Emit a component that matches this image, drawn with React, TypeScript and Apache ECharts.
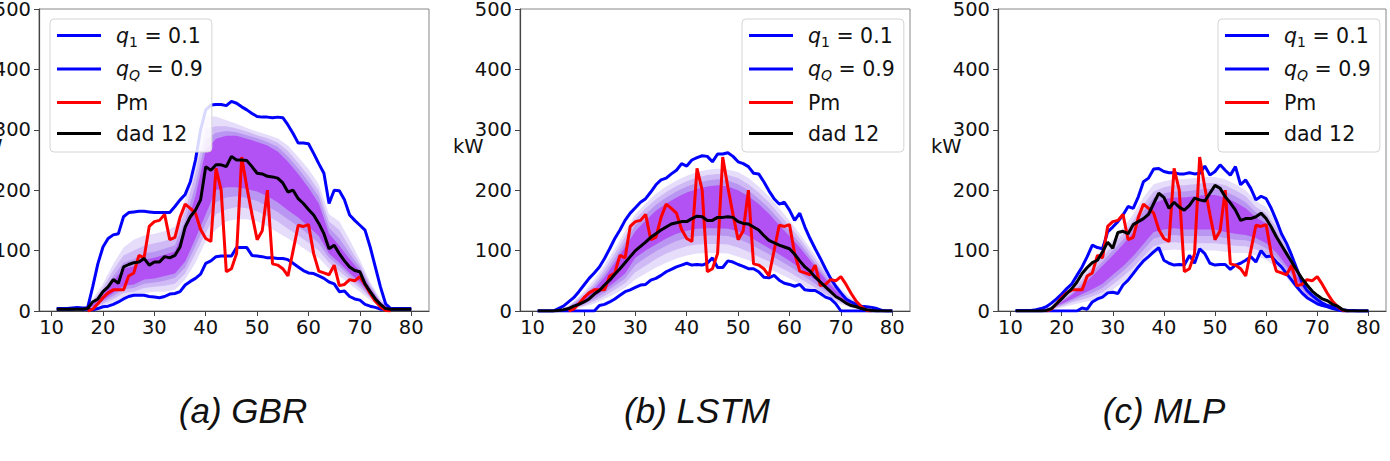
import { useEffect, useRef } from 'react';
import * as echarts from 'echarts';

// Time steps of the day (x axis)
const X = [
  11, 12, 13, 14, 15, 16, 17, 18, 19, 20,
  21, 22, 23, 24, 25, 26, 27, 28, 29, 30,
  31, 32, 33, 34, 35, 36, 37, 38, 39, 40,
  41, 42, 43, 44, 45, 46, 47, 48, 49, 50,
  51, 52, 53, 54, 55, 56, 57, 58, 59, 60,
  61, 62, 63, 64, 65, 66, 67, 68, 69, 70,
  71, 72, 73, 74, 75, 76, 77, 78, 79, 80,
];
const X_TICKS = [10, 20, 30, 40, 50, 60, 70, 80];

// Measured power (same day in every panel)
const PM = [
  null, null, null, null, null, null, 0, 3, 12, 22,
  30, 35, 35, 35, 58, 63, 92, 88, 140, 148,
  150, 160, 118, 122, 155, 177, 170, 162, 135, 120,
  115, 236, 200, 65, 70, 95, 255, 205, 160, 118,
  133, 200, 78, 76, 70, 58, 100, 142, 140, 143,
  95, 66, 63, 60, 76, 42, 44, 52, 50, 57,
  44, 29, 16, 7, 1, 0, null, null, null, null,
];

// GBR
const GBR_Q1 = [
  3, 3, 3, 3, 4, 3, 3, 2, 4, 7,
  8, 11, 15, 20, 24, 26, 26, 26, 24, 23,
  22, 24, 28, 29, 32, 43, 49, 54, 61, 79,
  83, 90, 91, 91, 91, 105, 105, 105, 92, 91,
  90, 88, 88, 87, 87, 85, 79, 73, 67, 63,
  62, 58, 54, 48, 45, 32, 33, 24, 20, 18,
  11, 8, 6, 3, 3, 3, 3, 3, 3, 3,
];
const GBR_QQ = [
  4, 4, 4, 5, 6, 5, 5, 40, 78, 106,
  120, 126, 128, 156, 163, 164, 165, 165, 164, 163,
  163, 163, 163, 173, 184, 193, 214, 250, 300, 333,
  341, 342, 342, 340, 347, 344, 338, 333, 327, 322,
  321, 321, 320, 321, 320, 308, 294, 278, 278, 277,
  261, 244, 228, 178, 200, 199, 184, 159, 150, 142,
  134, 106, 73, 40, 12, 4, 4, 4, 4, 4,
];
const GBR_DAD = [
  3, 3, 3, 3, 3, 3, 4, 15, 20, 32,
  40, 52, 46, 73, 77, 80, 81, 87, 76, 81,
  81, 90, 88, 92, 106, 139, 156, 167, 184, 239,
  233, 242, 242, 239, 256, 250, 250, 249, 239, 228,
  227, 223, 222, 220, 212, 197, 200, 186, 178, 168,
  159, 145, 128, 103, 109, 95, 83, 73, 67, 65,
  45, 32, 20, 11, 4, 3, 3, 3, 3, 3,
];

// LSTM
const LSTM_Q1 = [
  0, 0, 0, 0, 0, 0, 0, 0, 0, 0,
  0, 0, 9, 11, 15, 20, 26, 32, 35, 39,
  43, 44, 51, 54, 59, 65, 69, 73, 76, 79,
  76, 77, 76, 79, 88, 72, 72, 83, 81, 77,
  74, 70, 70, 65, 56, 55, 59, 51, 46, 44,
  41, 44, 35, 34, 34, 29, 23, 20, 12, 0,
  0, 0, 0, 0, 0, 0, 0, 0, 0, 0,
];
const LSTM_QQ = [
  0, 0, 0, 0, 4, 8, 15, 22, 32, 43,
  54, 63, 73, 87, 103, 120, 134, 150, 162, 171,
  180, 186, 197, 209, 217, 220, 227, 233, 244, 240,
  250, 254, 257, 256, 247, 260, 260, 262, 256, 247,
  244, 239, 228, 227, 214, 199, 186, 177, 180, 167,
  150, 162, 139, 120, 103, 87, 70, 54, 41, 30,
  20, 15, 11, 8, 7, 6, 4, 1, 0, 0,
];
const LSTM_DAD = [
  0, 0, 0, 0, 1, 2, 4, 8, 11, 15,
  20, 28, 34, 43, 51, 61, 70, 80, 90, 100,
  107, 114, 122, 128, 134, 139, 144, 146, 148, 148,
  153, 157, 156, 150, 150, 155, 155, 156, 155, 148,
  145, 144, 139, 134, 125, 117, 113, 109, 106, 103,
  94, 83, 73, 66, 56, 48, 40, 32, 24, 19,
  13, 9, 7, 4, 2, 1, 0, 0, 0, 0,
];

// MLP
const MLP_Q1 = [
  0, 0, 0, 0, 0, 0, 0, 0, 0, 0,
  0, 0, 0, 5, 3, 15, 20, 23, 30, 31,
  29, 43, 51, 62, 73, 83, 90, 98, 105, 84,
  79, 76, 77, 76, 92, 79, 103, 95, 79, 76,
  77, 77, 69, 76, 79, 84, 90, 81, 100, 90,
  91, 81, 73, 62, 51, 40, 30, 22, 17, 12,
  9, 7, 4, 2, 0, 0, 0, 0, 0, 0,
];
const MLP_QQ = [
  1, 1, 1, 1, 2, 4, 7, 13, 20, 28,
  37, 45, 59, 73, 90, 109, 105, 103, 131, 139,
  148, 159, 173, 170, 189, 214, 220, 235, 236, 231,
  229, 229, 227, 227, 229, 227, 228, 240, 225, 231,
  242, 233, 225, 239, 209, 217, 203, 184, 190, 186,
  170, 150, 128, 112, 92, 70, 48, 34, 26, 19,
  13, 9, 7, 4, 2, 1, 1, 0, 0, 0,
];
const MLP_DAD = [
  0, 0, 0, 0, 0, 0, 1, 4, 12, 20,
  29, 37, 48, 62, 72, 80, 84, 98, 114, 104,
  130, 132, 128, 143, 148, 153, 160, 178, 195, 188,
  170, 180, 172, 167, 175, 187, 184, 182, 195, 208,
  203, 189, 179, 167, 150, 153, 153, 156, 162, 153,
  139, 123, 109, 95, 81, 67, 54, 43, 33, 26,
  20, 17, 11, 8, 2, 0, 0, 0, 0, 0,
];

// Quantile bands, sampled every two steps (outer band 1 to inner band 4)
const BAND_X = [16, 18, 20, 22, 24, 26, 28, 30, 32, 34, 36, 38, 40, 42, 44, 46, 48, 50, 52, 54, 56, 58, 60, 62, 64, 66, 68, 70, 72, 74, 76, 78];

const GBR_B1_LO = [3, 4, 8, 15, 22, 25, 30, 32, 32, 35, 52, 80, 115, 135, 148, 152, 152, 148, 140, 130, 120, 110, 98, 88, 70, 58, 45, 32, 18, 7, 2, 3];
const GBR_B1_HI = [3, 20, 45, 78, 105, 118, 125, 128, 132, 140, 185, 250, 322, 322, 316, 310, 303, 297, 292, 286, 274, 255, 235, 210, 160, 148, 118, 85, 48, 20, 3, 3];
const GBR_B2_LO = [3, 5, 12, 20, 30, 32, 38, 40, 42, 45, 62, 95, 130, 160, 168, 172, 170, 165, 157, 148, 136, 125, 113, 100, 80, 66, 52, 38, 22, 9, 2, 3];
const GBR_B2_HI = [3, 16, 38, 68, 92, 100, 108, 112, 116, 123, 166, 228, 302, 306, 306, 302, 297, 291, 286, 279, 265, 245, 224, 199, 148, 134, 105, 78, 44, 17, 3, 3];
const GBR_B3_LO = [3, 6, 15, 25, 36, 38, 45, 47, 50, 55, 72, 108, 145, 180, 188, 190, 187, 182, 173, 164, 152, 140, 127, 112, 88, 74, 58, 43, 25, 10, 2, 3];
const GBR_B3_HI = [3, 13, 32, 58, 80, 86, 95, 98, 103, 109, 150, 208, 284, 295, 298, 296, 291, 286, 280, 272, 256, 236, 214, 189, 138, 120, 95, 72, 40, 15, 3, 3];
const GBR_B4_LO = [3, 7, 18, 30, 42, 44, 52, 54, 58, 62, 82, 120, 160, 200, 205, 205, 202, 198, 190, 180, 167, 155, 140, 124, 95, 80, 63, 48, 28, 11, 2, 3];
const GBR_B4_HI = [3, 11, 27, 50, 70, 74, 85, 88, 93, 99, 136, 190, 266, 285, 290, 290, 285, 280, 274, 264, 247, 227, 204, 178, 128, 108, 86, 66, 37, 14, 3, 3];

const LSTM_B1_LO = [1, 3, 7, 12, 20, 28, 38, 52, 62, 72, 80, 87, 92, 95, 96, 96, 95, 90, 84, 77, 70, 62, 54, 45, 36, 27, 18, 11, 5, 2, 0, 0];
const LSTM_B1_HI = [3, 16, 32, 52, 76, 103, 132, 160, 178, 194, 206, 216, 224, 230, 234, 236, 234, 230, 220, 206, 190, 170, 150, 128, 104, 80, 57, 37, 21, 10, 4, 1];
const LSTM_B2_LO = [1, 4, 9, 16, 25, 35, 46, 64, 75, 86, 95, 102, 107, 110, 111, 111, 110, 105, 98, 90, 82, 73, 64, 54, 44, 33, 23, 14, 7, 3, 0, 0];
const LSTM_B2_HI = [2, 14, 28, 46, 69, 95, 123, 152, 170, 185, 197, 207, 215, 221, 225, 227, 225, 220, 210, 196, 180, 160, 141, 120, 97, 74, 52, 33, 18, 8, 3, 1];
const LSTM_B3_LO = [1, 5, 11, 20, 30, 42, 54, 76, 88, 99, 108, 116, 121, 124, 125, 125, 124, 119, 112, 103, 94, 84, 74, 63, 51, 39, 28, 17, 9, 4, 1, 0];
const LSTM_B3_HI = [2, 12, 25, 41, 62, 87, 114, 142, 160, 176, 188, 198, 206, 212, 216, 218, 216, 210, 200, 186, 170, 151, 132, 112, 90, 68, 47, 29, 16, 7, 3, 1];
const LSTM_B4_LO = [1, 6, 13, 24, 35, 48, 62, 88, 100, 110, 120, 128, 133, 136, 137, 137, 136, 132, 124, 114, 104, 94, 83, 71, 58, 45, 32, 20, 10, 4, 1, 0];
const LSTM_B4_HI = [2, 10, 21, 36, 56, 80, 106, 132, 150, 166, 178, 188, 196, 202, 206, 208, 206, 200, 190, 177, 161, 142, 124, 105, 84, 63, 43, 26, 14, 6, 2, 1];

const MLP_B1_LO = [0, 2, 6, 10, 14, 18, 24, 35, 48, 62, 78, 95, 100, 102, 100, 100, 100, 100, 98, 96, 96, 92, 85, 72, 55, 35, 20, 10, 5, 2, 0, 0];
const MLP_B1_HI = [2, 8, 22, 38, 58, 80, 98, 118, 138, 160, 188, 210, 215, 218, 218, 220, 222, 222, 218, 210, 200, 182, 172, 148, 112, 72, 42, 24, 13, 6, 1, 0];
const MLP_B2_LO = [0, 3, 8, 14, 19, 24, 31, 44, 57, 72, 90, 107, 112, 114, 112, 112, 112, 112, 110, 108, 107, 102, 95, 81, 62, 41, 24, 13, 6, 2, 0, 0];
const MLP_B2_HI = [1, 7, 19, 34, 52, 72, 90, 108, 128, 150, 176, 198, 205, 208, 208, 210, 212, 212, 208, 200, 190, 172, 162, 139, 105, 67, 38, 22, 11, 5, 1, 0];
const MLP_B3_LO = [0, 3, 10, 17, 24, 30, 38, 52, 66, 82, 101, 120, 124, 126, 124, 124, 124, 124, 121, 118, 117, 112, 104, 89, 69, 46, 27, 15, 7, 3, 0, 0];
const MLP_B3_HI = [1, 6, 17, 30, 46, 64, 82, 100, 118, 140, 165, 188, 195, 198, 198, 200, 202, 202, 198, 190, 180, 163, 153, 131, 99, 62, 35, 20, 10, 5, 1, 0];
const MLP_B4_LO = [0, 4, 12, 20, 28, 36, 45, 60, 74, 91, 111, 131, 135, 137, 135, 135, 135, 135, 131, 128, 126, 121, 112, 97, 75, 51, 30, 16, 8, 3, 0, 0];
const MLP_B4_HI = [1, 5, 15, 27, 41, 58, 75, 92, 110, 130, 155, 178, 185, 188, 188, 190, 192, 192, 188, 180, 170, 155, 145, 124, 93, 58, 33, 19, 9, 4, 1, 0];

const CAPTIONS = ['(a) GBR', '(b) LSTM', '(c) MLP'];
const LEGEND_NAMES = ['q1', 'qQ', 'Pm', 'dad 12'];
const LEGEND_LABELS: Record<string, string> = {
  q1: '{q|q}{s|1}{t| = 0.1}',
  qQ: '{q|q}{sq|Q}{t| = 0.9}',
  Pm: '{t|Pm}',
  'dad 12': '{t|dad 12}',
};

const PANELS = [
  { q1: GBR_Q1, qQ: GBR_QQ, dad: GBR_DAD, bands: [[GBR_B1_LO, GBR_B1_HI], [GBR_B2_LO, GBR_B2_HI], [GBR_B3_LO, GBR_B3_HI], [GBR_B4_LO, GBR_B4_HI]] },
  { q1: LSTM_Q1, qQ: LSTM_QQ, dad: LSTM_DAD, bands: [[LSTM_B1_LO, LSTM_B1_HI], [LSTM_B2_LO, LSTM_B2_HI], [LSTM_B3_LO, LSTM_B3_HI], [LSTM_B4_LO, LSTM_B4_HI]] },
  { q1: MLP_Q1, qQ: MLP_QQ, dad: MLP_DAD, bands: [[MLP_B1_LO, MLP_B1_HI], [MLP_B2_LO, MLP_B2_HI], [MLP_B3_LO, MLP_B3_HI], [MLP_B4_LO, MLP_B4_HI]] },
];

// Page layout of the three panels
const LAYOUT = [
  { left: 39, width: 390, legendLeft: 50, captionX: 243, kwX: -12 },
  { left: 520, width: 390, legendLeft: 742, captionX: 697, kwX: 469 },
  { left: 998, width: 388, legendLeft: 1218, captionX: 1164, kwX: 947 },
];
const PLOT_TOP = 9;
const PLOT_HEIGHT = 302;

const FONT = '"DejaVu Sans", Verdana, sans-serif';
const TEXT = '#111';
const BAND_COLORS = ['#e6ddfb', '#cfbaf6', '#b996f1', '#b252f4'];
const BLUE = '#0000ff';
const RED = '#ff0000';
const BLACK = '#000000';

function bandSeries(k: number, lo: number[], hi: number[], color: string) {
  return {
    type: 'custom',
    name: 'band',
    xAxisIndex: k,
    yAxisIndex: k,
    silent: true,
    data: BAND_X.map((x, i) => [x, lo[i], hi[i]]),
    encode: { x: 0, y: [1, 2] },
    renderItem: (params: any, api: any) => {
      if (params.dataIndex !== 0) return null;
      const top = BAND_X.map((x, i) => api.coord([x, hi[i]]));
      const bottom = BAND_X.map((x, i) => api.coord([x, lo[i]])).reverse();
      return {
        type: 'polygon',
        shape: { points: top.concat(bottom) },
        style: { fill: color, stroke: null },
      };
    },
  };
}

function lineSeries(k: number, name: string, values: (number | null)[], color: string) {
  return {
    type: 'line',
    name,
    xAxisIndex: k,
    yAxisIndex: k,
    data: X.map((x, i) => [x, values[i]]),
    showSymbol: false,
    symbol: 'none',
    connectNulls: false,
    color,
    lineStyle: { color, width: 3 },
    silent: true,
  };
}

function buildOption() {
  const grid: any[] = [];
  const xAxis: any[] = [];
  const yAxis: any[] = [];
  const series: any[] = [];
  const legend: any[] = [];
  const graphic: any[] = [];

  PANELS.forEach((p, k) => {
    const L = LAYOUT[k];
    grid.push({
      left: L.left,
      top: PLOT_TOP,
      width: L.width,
      height: PLOT_HEIGHT,
      containLabel: false,
      outerBoundsMode: 'none',
      show: true,
      borderColor: '#888',
      borderWidth: 1,
      backgroundColor: 'transparent',
    });
    xAxis.push({
      type: 'value',
      gridIndex: k,
      min: 7.55,
      max: 83.45,
      axisLine: { show: true, lineStyle: { color: '#444', width: 1.2 } },
      axisTick: { show: true, length: 5, customValues: X_TICKS, lineStyle: { color: '#444' } },
      axisLabel: { customValues: X_TICKS, fontFamily: FONT, fontSize: 19.5, color: TEXT, margin: 6 },
      splitLine: { show: false },
    });
    yAxis.push({
      type: 'value',
      gridIndex: k,
      min: 0,
      max: 500,
      interval: 100,
      axisLine: { show: true, lineStyle: { color: '#444', width: 1.2 } },
      axisTick: { show: true, length: 5, lineStyle: { color: '#444' } },
      axisLabel: { fontFamily: FONT, fontSize: 19.5, color: TEXT, margin: 8 },
      splitLine: { show: false },
    });

    p.bands.forEach(([lo, hi], b) => series.push(bandSeries(k, lo, hi, BAND_COLORS[b])));
    series.push(lineSeries(k, 'q1', p.q1, BLUE));
    series.push(lineSeries(k, 'qQ', p.qQ, BLUE));
    series.push(lineSeries(k, 'Pm', PM, RED));
    series.push(lineSeries(k, 'dad 12', p.dad, BLACK));

    legend.push({
      data: LEGEND_NAMES,
      orient: 'vertical',
      left: L.legendLeft,
      top: 19,
      icon: 'rect',
      itemWidth: 44,
      itemHeight: 3,
      itemGap: 10,
      padding: [6, 9, 8, 7],
      backgroundColor: 'rgba(255,255,255,0.85)',
      borderColor: '#d4d4d4',
      borderWidth: 1,
      borderRadius: 4,
      selectedMode: false,
      formatter: (name: string) => LEGEND_LABELS[name],
      textStyle: {
        fontFamily: FONT,
        fontSize: 20,
        color: TEXT,
        padding: [0, 0, 0, 10],
        rich: {
          t: { fontFamily: FONT, fontSize: 20.5, color: TEXT, lineHeight: 26 },
          q: { fontFamily: FONT, fontSize: 20.5, color: TEXT, lineHeight: 26, fontStyle: 'italic' },
          s: { fontFamily: FONT, fontSize: 14, color: TEXT, lineHeight: 14, verticalAlign: 'bottom' },
          sq: { fontFamily: FONT, fontSize: 14, color: TEXT, lineHeight: 14, verticalAlign: 'bottom', fontStyle: 'italic' },
        },
      },
      z: 10,
    });

    graphic.push({
      type: 'text',
      left: L.kwX - 16,
      top: 136,
      style: { text: 'kW', fontFamily: FONT, fontSize: 19.5, fill: TEXT },
    });
    graphic.push({
      type: 'text',
      x: L.captionX,
      y: 410,
      style: {
        text: CAPTIONS[k],
        fontFamily: '"Liberation Sans", Arial, sans-serif',
        fontStyle: 'italic',
        fontSize: 35,
        fill: TEXT,
        align: 'center',
        verticalAlign: 'middle',
      },
    });
  });

  return { animation: false, backgroundColor: '#fff', grid, xAxis, yAxis, series, legend, graphic };
}

export default function App() {
  const ref = useRef<HTMLDivElement>(null);
  useEffect(() => {
    const chart = echarts.init(ref.current as HTMLDivElement, null, { renderer: 'svg' });
    chart.setOption(buildOption() as any);
    return () => chart.dispose();
  }, []);
  return (
    <div
      ref={ref}
      style={{ position: 'absolute', left: 0, top: 0, width: 1390, height: 461, background: '#fff' }}
    />
  );
}
